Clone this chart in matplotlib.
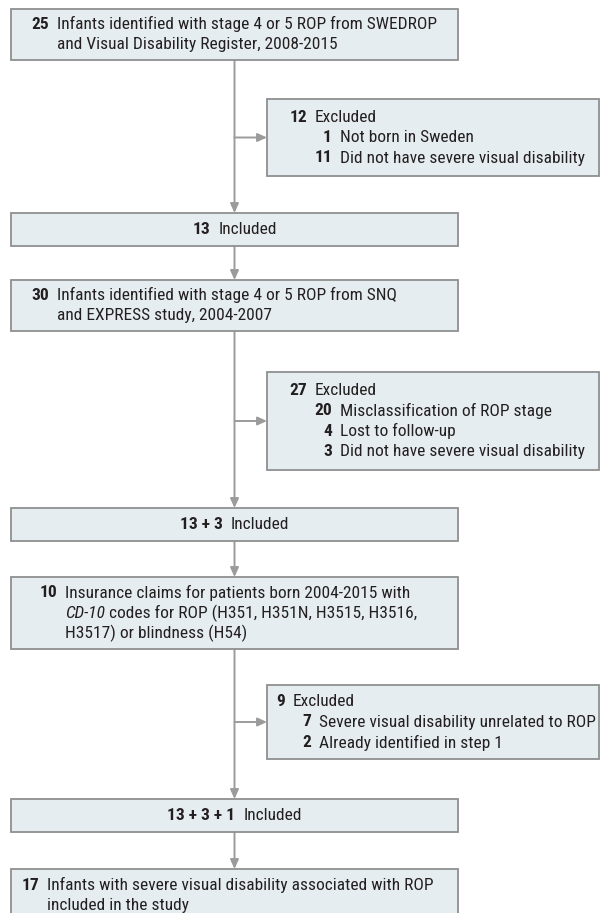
import matplotlib
matplotlib.use('Agg')
import matplotlib.pyplot as plt
from matplotlib.patches import Rectangle
from matplotlib import font_manager

# pick a narrow sans if one is installed
names = {f.name for f in font_manager.fontManager.ttflist}
family = 'DejaVu Sans'
for cand in ['Liberation Sans Narrow', 'Noto Sans Condensed', 'Roboto Condensed', 'Open Sans Condensed', 'Noto Sans']:
	if cand in names:
		family = cand
		break
plt.rcParams['font.family'] = [family, 'DejaVu Sans']

# flow data
main_counts = ['25', '13', '30', '13 + 3', '10', '13 + 3 + 1', '17']
main_texts = [['Infants identified with stage 4 or 5 ROP from SWEDROP', 'and Visual Disability Register, 2008-2015'],
			  ['Included'],
			  ['Infants identified with stage 4 or 5 ROP from SNQ', 'and EXPRESS study, 2004-2007'],
			  ['Included'],
			  ['Insurance claims for patients born 2004-2015 with', 'CD-10 codes for ROP (H351, H351N, H3515, H3516,', 'H3517) or blindness (H54)'],
			  ['Included'],
			  ['Infants with severe visual disability associated with ROP', 'included in the study']]

excl_counts = ['12', '27', '9']
excl_reasons = [[('1', 'Not born in Sweden'), ('11', 'Did not have severe visual disability')],
				[('20', 'Misclassification of ROP stage'), ('4', 'Lost to follow-up'), ('3', 'Did not have severe visual disability')],
				[('7', 'Severe visual disability unrelated to ROP'), ('2', 'Already identified in step 1')]]

# layout in pixels (600 x 913 canvas)
W, H = 600, 913
box_left, box_right = 11, 458
cx = (box_left + box_right)/2
main_y = [(9, 60), (213, 246), (280, 331), (508, 541), (577, 649), (799, 832), (869, 925)]
main_x = [57, None, 57, None, 65, None, 47]		 # text start, None = centred
excl_y = [(99, 176), (372, 470), (685, 759)]
excl_left, excl_right = 267, 599
excl_x = [315, 315, 293]		# 'Excluded' start
excl_sub_x = [340, 340, 319]	# reason text start

fill = '#e6edf1'
edge = '#8f8f8f'
line_col = '#9b9b9b'
txt_col = '#231f20'
fs = 12.5
lh = 20.5

fig = plt.figure(figsize = (W/100, H/100), dpi = 100)
ax = fig.add_axes([0, 0, 1, 1])
ax.set_xlim(0, W)
ax.set_ylim(H, 0)
ax.axis('off')
renderer = fig.canvas.get_renderer()

def text_width(s, weight, style = 'normal'):
	t = ax.text(0, 0, s, fontsize = fs, fontweight = weight, style = style)
	bb = t.get_window_extent(renderer)
	t.remove()
	return bb.width

def box(x0, x1, y0, y1):
	ax.add_patch(Rectangle((x0, y0), x1 - x0, y1 - y0, facecolor = fill, edgecolor = edge, lw = 1.3, zorder = 2))

def arrow(x0, y0, x1, y1):
	ax.annotate('', xy = (x1, y1), xytext = (x0, y0),
				arrowprops = dict(arrowstyle = '-|>,head_length=0.55,head_width=0.25', color = line_col, lw = 1.4,
								  shrinkA = 0, shrinkB = 0), zorder = 1)

gap = 8
for i, (count, lines) in enumerate(zip(main_counts, main_texts)):
	y0, y1 = main_y[i]
	box(box_left, box_right, y0, y1)
	yc = (y0 + min(y1, H))/2 if i < len(main_counts) - 1 else y0 + 16 + lh/2
	first = yc - (len(lines) - 1)*lh/2
	if main_x[i] is None:
		wn = text_width(count, 'bold')
		wt = text_width(lines[0], 'normal')
		start = cx - (wn + gap + wt)/2
		ax.text(start, yc, count, fontsize = fs, fontweight = 'bold', color = txt_col, va = 'center', ha = 'left', zorder = 3)
		ax.text(start + wn + gap, yc, lines[0], fontsize = fs, color = txt_col, va = 'center', ha = 'left', zorder = 3)
	else:
		tx = main_x[i]
		ax.text(tx - gap, first, count, fontsize = fs, fontweight = 'bold', color = txt_col, va = 'center', ha = 'right', zorder = 3)
		for k, line in enumerate(lines):
			if line.startswith('CD-10'):
				ax.text(tx, first + k*lh, 'CD-10', fontsize = fs, style = 'italic', color = txt_col, va = 'center', ha = 'left', zorder = 3)
				w_it = text_width('CD-10 ', 'normal', 'italic')
				ax.text(tx + w_it, first + k*lh, line[6:], fontsize = fs, color = txt_col, va = 'center', ha = 'left', zorder = 3)
			else:
				ax.text(tx, first + k*lh, line, fontsize = fs, color = txt_col, va = 'center', ha = 'left', zorder = 3)

# vertical connectors
for i in range(len(main_y) - 1):
	arrow(cx, main_y[i][1], cx, main_y[i + 1][0])

for i, (count, reasons) in enumerate(zip(excl_counts, excl_reasons)):
	y0, y1 = excl_y[i]
	box(excl_left, excl_right, y0, y1)
	yc = (y0 + y1)/2
	arrow(cx, yc, excl_left, yc)
	n = len(reasons) + 1
	first = yc - (n - 1)*lh/2
	ax.text(excl_x[i] - gap, first, count, fontsize = fs, fontweight = 'bold', color = txt_col, va = 'center', ha = 'right', zorder = 3)
	ax.text(excl_x[i], first, 'Excluded', fontsize = fs, color = txt_col, va = 'center', ha = 'left', zorder = 3)
	for k, (num, reason) in enumerate(reasons):
		y = first + (k + 1)*lh
		ax.text(excl_sub_x[i] - gap, y, num, fontsize = fs, fontweight = 'bold', color = txt_col, va = 'center', ha = 'right', zorder = 3)
		ax.text(excl_sub_x[i], y, reason, fontsize = fs, color = txt_col, va = 'center', ha = 'left', zorder = 3)

fig.savefig('out.png', dpi = 100)
